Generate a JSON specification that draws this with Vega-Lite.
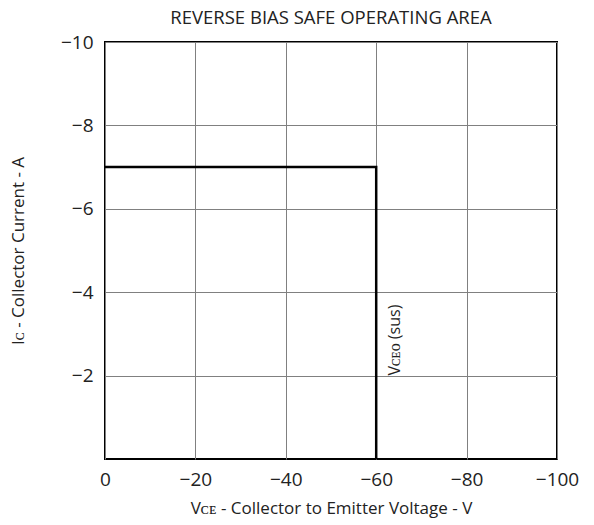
{
  "$schema": "https://vega.github.io/schema/vega-lite/v6.json",
  "width": 452,
  "height": 417,
  "autosize": "none",
  "padding": {"left": 105, "top": 42, "right": 37, "bottom": 66},
  "background": "white",
  "title": {"text": "REVERSE BIAS SAFE OPERATING AREA", "anchor": "middle", "frame": "group", "fontSize": 18.5, "font": "Open Sans", "fontWeight": "normal", "color": "#222", "offset": 6},
  "config": {
    "view": {"stroke": "black", "strokeWidth": 2},
    "font": "Open Sans",
    "axis": {"grid": true, "gridColor": "#808080", "gridWidth": 1, "gridOpacity": 1, "ticks": false, "domain": false, "labelFontSize": 19, "labelColor": "#222", "titleFontSize": 17, "titleColor": "#222", "titleFontWeight": "normal", "labelFont": "Open Sans", "titleFont": "Open Sans", "labelFlush": false}
  },
  "datasets": {
    "curve": [
      {"seq": 1, "vce": 0, "ic": -7},
      {"seq": 2, "vce": -60, "ic": -7},
      {"seq": 3, "vce": -60, "ic": 0}
    ],
    "note": [
      {"vce": -64.2, "ic": -2.0, "label": "Vᴄᴇᴏ (sus)"}
    ]
  },
  "layer": [
    {
      "data": {"name": "curve"},
      "mark": {"type": "line", "color": "black", "strokeWidth": 2.5, "clip": false},
      "encoding": {
        "x": {"field": "vce", "type": "quantitative", "scale": {"domain": [-100, 0], "reverse": true, "nice": false},
          "axis": {"values": [0, -20, -40, -60, -80, -100], "format": "d", "labelExpr": "replace(datum.label, '-', '−')", "labelPadding": 11, "title": "Vᴄᴇ - Collector to Emitter Voltage - V", "titleY": 49, "titleBaseline": "middle"}},
        "y": {"field": "ic", "type": "quantitative", "scale": {"domain": [-10, 0], "reverse": true, "nice": false},
          "axis": {"values": [-10, -8, -6, -4, -2], "labelExpr": "replace(datum.label, '-', '−')", "labelPadding": 12, "title": "Iᴄ - Collector Current - A", "titleX": -87, "titleBaseline": "middle"}},
        "order": {"field": "seq", "type": "quantitative"}
      }
    },
    {
      "data": {"name": "note"},
      "mark": {"type": "text", "angle": 270, "align": "left", "baseline": "middle", "fontSize": 16, "color": "#222"},
      "encoding": {
        "x": {"field": "vce", "type": "quantitative"},
        "y": {"field": "ic", "type": "quantitative"},
        "text": {"field": "label"}
      }
    }
  ]
}
